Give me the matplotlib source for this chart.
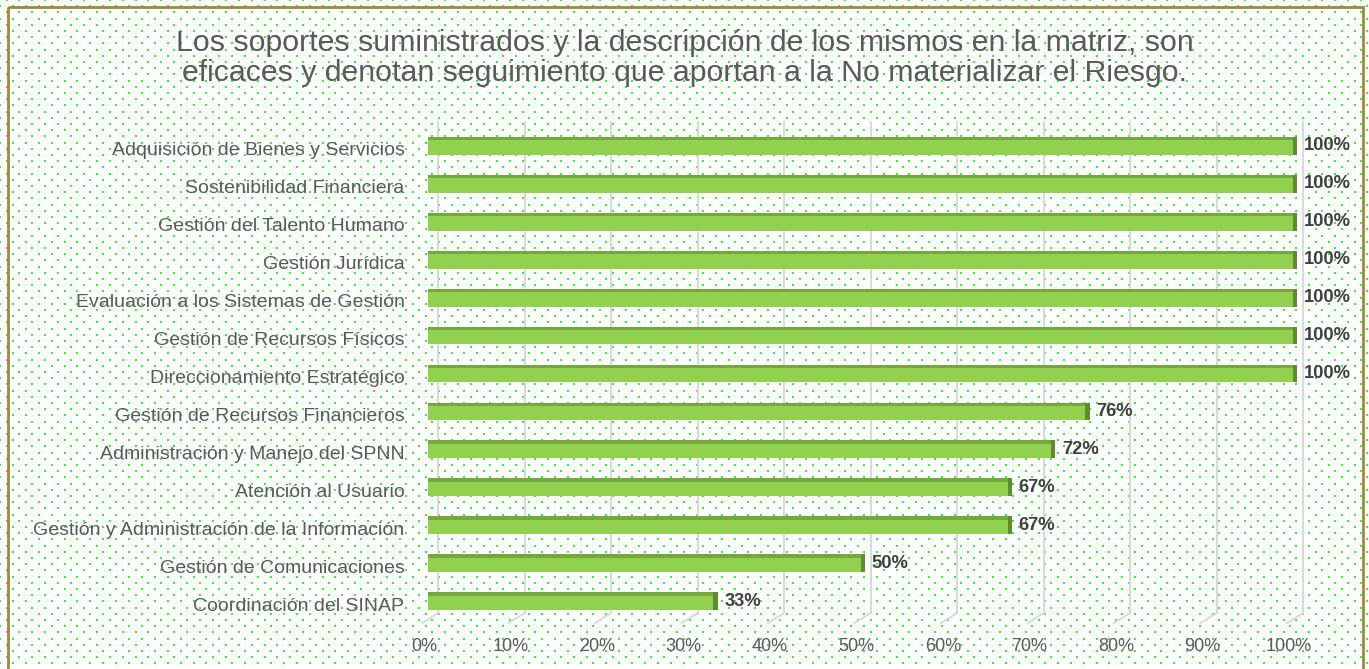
import numpy as np
import matplotlib.pyplot as plt
from matplotlib.patches import Rectangle
import matplotlib.transforms as mtransforms

plt.rcParams['font.family'] = ['Liberation Sans', 'DejaVu Sans']

titulo = ("Los soportes suministrados y la descripción de los mismos en la matriz, son\n"
          "eficaces y denotan seguimiento que aportan a la No materializar el Riesgo.")

procesos = [
    "Adquisición de Bienes y Servicios",
    "Sostenibilidad Financiera",
    "Gestión del Talento Humano",
    "Gestión Jurídica",
    "Evaluación a los Sistemas de Gestión",
    "Gestión de Recursos Físicos",
    "Direccionamiento Estratégico",
    "Gestión de Recursos Financieros",
    "Administración y Manejo del SPNN",
    "Atención al Usuario",
    "Gestión y Administración de la Información",
    "Gestión de Comunicaciones",
    "Coordinación del SINAP",
]
porcentajes = [1.00, 1.00, 1.00, 1.00, 1.00, 1.00, 1.00, 0.76, 0.72, 0.67, 0.67, 0.50, 0.33]
ticks = [0.0, 0.1, 0.2, 0.3, 0.4, 0.5, 0.6, 0.7, 0.8, 0.9, 1.0]

W, H = 1369, 669
fig = plt.figure(figsize=(W / 100, H / 100), dpi=100)

# fondo punteado verde con marco
bg = fig.add_axes([0, 0, 1, 1], zorder=0)
bg.set_xlim(0, W)
bg.set_ylim(H, 0)
bg.axis('off')
filas = np.arange(0, H + 7, 6.2)
px, py = [], []
for i, yy in enumerate(filas):
    x0 = 6.5 if i % 2 == 0 else 0.0
    xs = np.arange(x0, W, 12.9)
    px.extend(xs)
    py.extend([yy] * len(xs))
bg.scatter(px, py, s=2.4, marker='s', color='#33f533', linewidths=0)
bg.add_patch(Rectangle((8, 7), 1355, 680, fill=False, edgecolor='#a4873e', linewidth=2))

fig.text(0.5, 1 - 58 / H, titulo, ha='center', va='center', fontsize=21.8,
         color='#595959', linespacing=1.13)

ax = fig.add_axes([428 / W, (H - 620) / H, 865 / W, 493 / H], zorder=1)
ax.set_facecolor('none')
for s in ax.spines.values():
    s.set_visible(False)
ax.set_xlim(0, 1)
ax.set_ylim(len(procesos) - 0.5, -0.5)

# lineas de division con efecto 3D
ax_w = 865
ax_h = 493
back = ax.get_xaxis_transform() + mtransforms.ScaledTranslation(10 / 100, 0, fig.dpi_scale_trans)
for t in ticks:
    ax.plot([t, t], [1.01, 0.014], color='#d9d9d9', lw=1.4, transform=back, clip_on=False, zorder=0)
    ax.plot([t, t - 16 / ax_w], [0.014, 0.014 - 10 / ax_h], color='#d9d9d9', lw=1.4,
            transform=back, clip_on=False, zorder=0)

y = np.arange(len(procesos))
alto = 0.47
ax.barh(y, porcentajes, height=alto, color='#92d050', zorder=2, clip_on=False)
# borde superior oscuro y cara lateral
ax.barh(y - alto / 2 + 0.045, porcentajes, height=0.09, color='#74a83c', zorder=3, clip_on=False)
ax.barh(y, [0.005] * len(y), left=porcentajes, height=alto, color='#5f8d2e', zorder=3, clip_on=False)

for yi, v in zip(y, porcentajes):
    ax.annotate(f"{v:.0%}", (v, yi), xytext=(11, 0), textcoords='offset pixels',
                ha='left', va='center', fontsize=13.2, fontweight='bold', color='#404040')

ax.set_yticks(y)
ax.set_yticklabels(procesos, fontsize=14, color='#595959')
ax.set_xticks(ticks)
ax.set_xticklabels([f"{t:.0%}" for t in ticks], fontsize=13, color='#595959')
ax.tick_params(axis='y', length=0, pad=17)
ax.tick_params(axis='x', length=0, pad=13)
desplazar_x = mtransforms.ScaledTranslation(-4 / 100, 0, fig.dpi_scale_trans)
for lab in ax.get_xticklabels():
    lab.set_transform(lab.get_transform() + desplazar_x)
desplazar_y = mtransforms.ScaledTranslation(0, -3 / 100, fig.dpi_scale_trans)
for lab in ax.get_yticklabels():
    lab.set_transform(lab.get_transform() + desplazar_y)

fig.savefig('out.png', dpi=100)
